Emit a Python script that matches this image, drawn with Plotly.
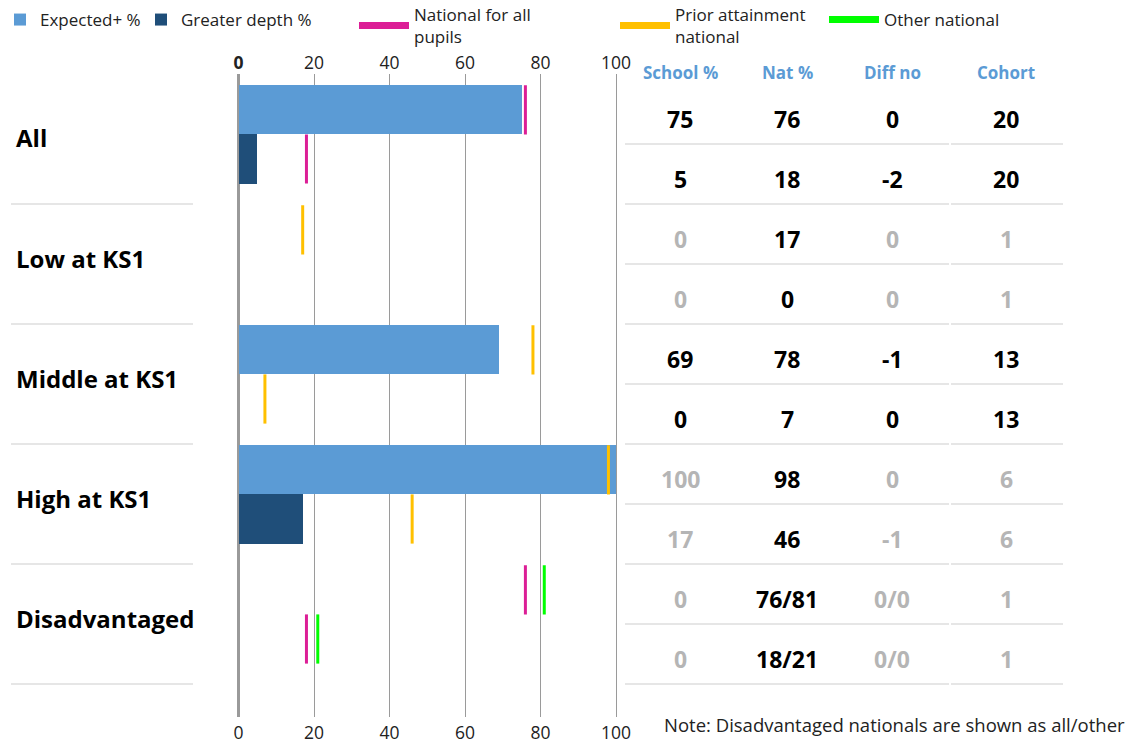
import plotly.graph_objects as go

W, H = 1128, 742

# ---------------- data ----------------
categories = ["All", "Low at KS1", "Middle at KS1", "High at KS1", "Disadvantaged"]
expected_pct = [75, 0, 69, 100, 0]
greater_pct = [5, 0, 0, 17, 0]

nat_all_expected = [76, None, None, None, 76]
nat_all_greater = [18, None, None, None, 18]
prior_expected = [None, 17, 78, 98, None]
prior_greater = [None, None, 7, 46, None]
other_expected = [None, None, None, None, 81]
other_greater = [None, None, None, None, 21]

table_headers = ["School %", "Nat %", "Diff no", "Cohort"]
school_col = ["75", "5", "0", "0", "69", "0", "100", "17", "0", "0"]
nat_col = ["76", "18", "17", "0", "78", "7", "98", "46", "76/81", "18/21"]
diff_col = ["0", "-2", "0", "0", "-1", "0", "0", "-1", "0/0", "0/0"]
cohort_col = ["20", "20", "1", "1", "13", "13", "6", "6", "1", "1"]
muted_rows = [False, False, True, True, False, False, True, True, True, True]

x_ticks = [0, 20, 40, 60, 80, 100]
note_text = "Note: Disadvantaged nationals are shown as all/other"

# ---------------- styling ----------------
C_EXP = "#5b9bd5"
C_GD = "#1f4e79"
C_NAT = "#dc1e96"
C_PRIOR = "#ffc000"
C_OTHER = "#00ff00"
C_GRID = "#9a9a9a"
C_SEP = "#e6e6e6"
C_MUTED = "#b5b5b5"
FONT = "Open Sans"

# layout geometry (pixels -> fractions)
x_lo, x_hi = -0.4, 100.4
px0, px100 = 238.5, 616.0
ppu = (px100 - px0) / 100.0
dom_l = (px0 + x_lo * ppu) / W
dom_r = (px0 + x_hi * ppu) / W
top_px, bot_px, row0_px, row_px = 74, 717, 84, 60
y_top = (top_px - row0_px) / row_px
y_bot = (bot_px - row0_px) / row_px

EXP_OFF, GD_OFF, BAR_H = 0.43, 1.25, 0.82

exp_pos = [2 * k + EXP_OFF for k in range(len(categories))]
gd_pos = [2 * k + GD_OFF for k in range(len(categories))]

fig = go.Figure()

fig.add_trace(go.Bar(x=expected_pct, y=exp_pos, orientation="h", width=BAR_H,
                     marker=dict(color=C_EXP, line=dict(width=0)), name="Expected+ %",
                     legend="legend", hoverinfo="x"))
fig.add_trace(go.Bar(x=greater_pct, y=gd_pos, orientation="h", width=BAR_H,
                     marker=dict(color=C_GD, line=dict(width=0)), name="Greater depth %",
                     legend="legend2", hoverinfo="x"))


def seg_trace(vals_e, vals_g, color):
    xs, ys = [], []
    for k in range(len(categories)):
        for v, c in ((vals_e[k], exp_pos[k]), (vals_g[k], gd_pos[k])):
            if v is None:
                continue
            xs += [v, v, None]
            ys += [c - BAR_H / 2, c + BAR_H / 2, None]
    return go.Scatter(x=xs, y=ys, mode="lines", line=dict(color=color, width=3),
                      showlegend=False, hoverinfo="x")


fig.add_trace(seg_trace(nat_all_expected, nat_all_greater, C_NAT))
fig.add_trace(seg_trace(prior_expected, prior_greater, C_PRIOR))
fig.add_trace(seg_trace(other_expected, other_greater, C_OTHER))

# legend-only entries for the reference lines
for name, color, lg in (("National for all<br>pupils", C_NAT, "legend3"),
                        ("Prior attainment<br>national", C_PRIOR, "legend4"),
                        ("Other national", C_OTHER, "legend5")):
    fig.add_trace(go.Scatter(x=[None], y=[None], mode="lines",
                             line=dict(color=color, width=7), name=name, legend=lg))

# top axis (duplicate)
fig.add_trace(go.Scatter(x=[None], y=[None], xaxis="x2", showlegend=False))

# ---------------- table ----------------
ann = []
col_x = [680, 787, 892, 1006]
for j, h in enumerate(table_headers):
    ann.append(dict(xref="paper", yref="paper", x=col_x[j] / W, y=1 - 72 / H,
                    text="<b>%s</b>" % h, showarrow=False, xanchor="center", yanchor="middle",
                    font=dict(family=FONT, size=17, color=C_EXP)))
cols = [school_col, nat_col, diff_col, cohort_col]
for i in range(len(school_col)):
    for j, col in enumerate(cols):
        color = C_MUTED if (muted_rows[i] and j != 1) else "#000000"
        ann.append(dict(xref="paper", yref="y", x=col_x[j] / W, y=i + 0.583,
                        text="<b>%s</b>" % col[i], showarrow=False, xanchor="center",
                        yanchor="middle", font=dict(family=FONT, size=23, color=color)))

for k, c in enumerate(categories):
    ann.append(dict(xref="paper", yref="y", x=14 / W, y=2 * k + 0.9,
                    text="<b>%s</b>" % c, showarrow=False, xanchor="left", yanchor="middle",
                    font=dict(family=FONT, size=24, color="#000000")))

ann.append(dict(xref="paper", yref="paper", x=1127 / W, y=1 - 724 / H, text=note_text,
                showarrow=False, xanchor="right", yanchor="middle",
                font=dict(family=FONT, size=18.5, color="#222222")))

shapes = []
for k in range(1, len(categories) + 1):
    shapes.append(dict(type="line", xref="paper", yref="y", x0=11 / W, x1=193 / W,
                       y0=2 * k, y1=2 * k, line=dict(color=C_SEP, width=2), layer="below"))
for i in range(1, len(school_col) + 1):
    shapes.append(dict(type="line", xref="paper", yref="y", x0=625 / W, x1=949 / W,
                       y0=i, y1=i, line=dict(color=C_SEP, width=2), layer="below"))
    shapes.append(dict(type="line", xref="paper", yref="y", x0=951 / W, x1=1063 / W,
                       y0=i, y1=i, line=dict(color=C_SEP, width=2), layer="below"))

axis_common = dict(range=[x_lo, x_hi], domain=[dom_l, dom_r], tickvals=x_ticks,
                   showgrid=True, gridcolor=C_GRID, gridwidth=1, zeroline=True,
                   zerolinecolor=C_GRID, zerolinewidth=3, showline=False, ticks="",
                   tickfont=dict(family=FONT, size=17.5, color="#222222"), fixedrange=True)

leg_common = dict(orientation="h", bgcolor="rgba(0,0,0,0)", borderwidth=0,
                  font=dict(family=FONT, size=17, color="#222222"), xanchor="left",
                  yanchor="middle", valign="middle")

fig.update_layout(
    width=W, height=H, paper_bgcolor="white", plot_bgcolor="white",
    margin=dict(l=0, r=0, t=0, b=0, autoexpand=False),
    barmode="overlay", bargap=0,
    font=dict(family=FONT),
    xaxis=dict(**axis_common, side="bottom", ticklabelstandoff=3,
               ticktext=[str(t) for t in x_ticks]),
    xaxis2=dict(**axis_common, side="top", overlaying="x", ticklabelstandoff=1,
                ticktext=["<b>0</b>"] + [str(t) for t in x_ticks[1:]]),
    yaxis=dict(range=[y_bot, y_top], domain=[1 - bot_px / H, 1 - top_px / H],
               showgrid=False, zeroline=False, showticklabels=False, fixedrange=True),
    legend=dict(**leg_common, x=0 / W, y=1 - 20 / H),
    legend2=dict(**leg_common, x=141 / W, y=1 - 20 / H),
    legend3=dict(**leg_common, x=354 / W, y=1 - 26 / H, itemwidth=50),
    legend4=dict(**leg_common, x=615 / W, y=1 - 26 / H, itemwidth=50),
    legend5=dict(**leg_common, x=824 / W, y=1 - 20 / H, itemwidth=50),
    annotations=ann, shapes=shapes,
)

fig.write_html("out.html", config={"displayModeBar": False},
               post_script="document.body.style.margin='0';")
